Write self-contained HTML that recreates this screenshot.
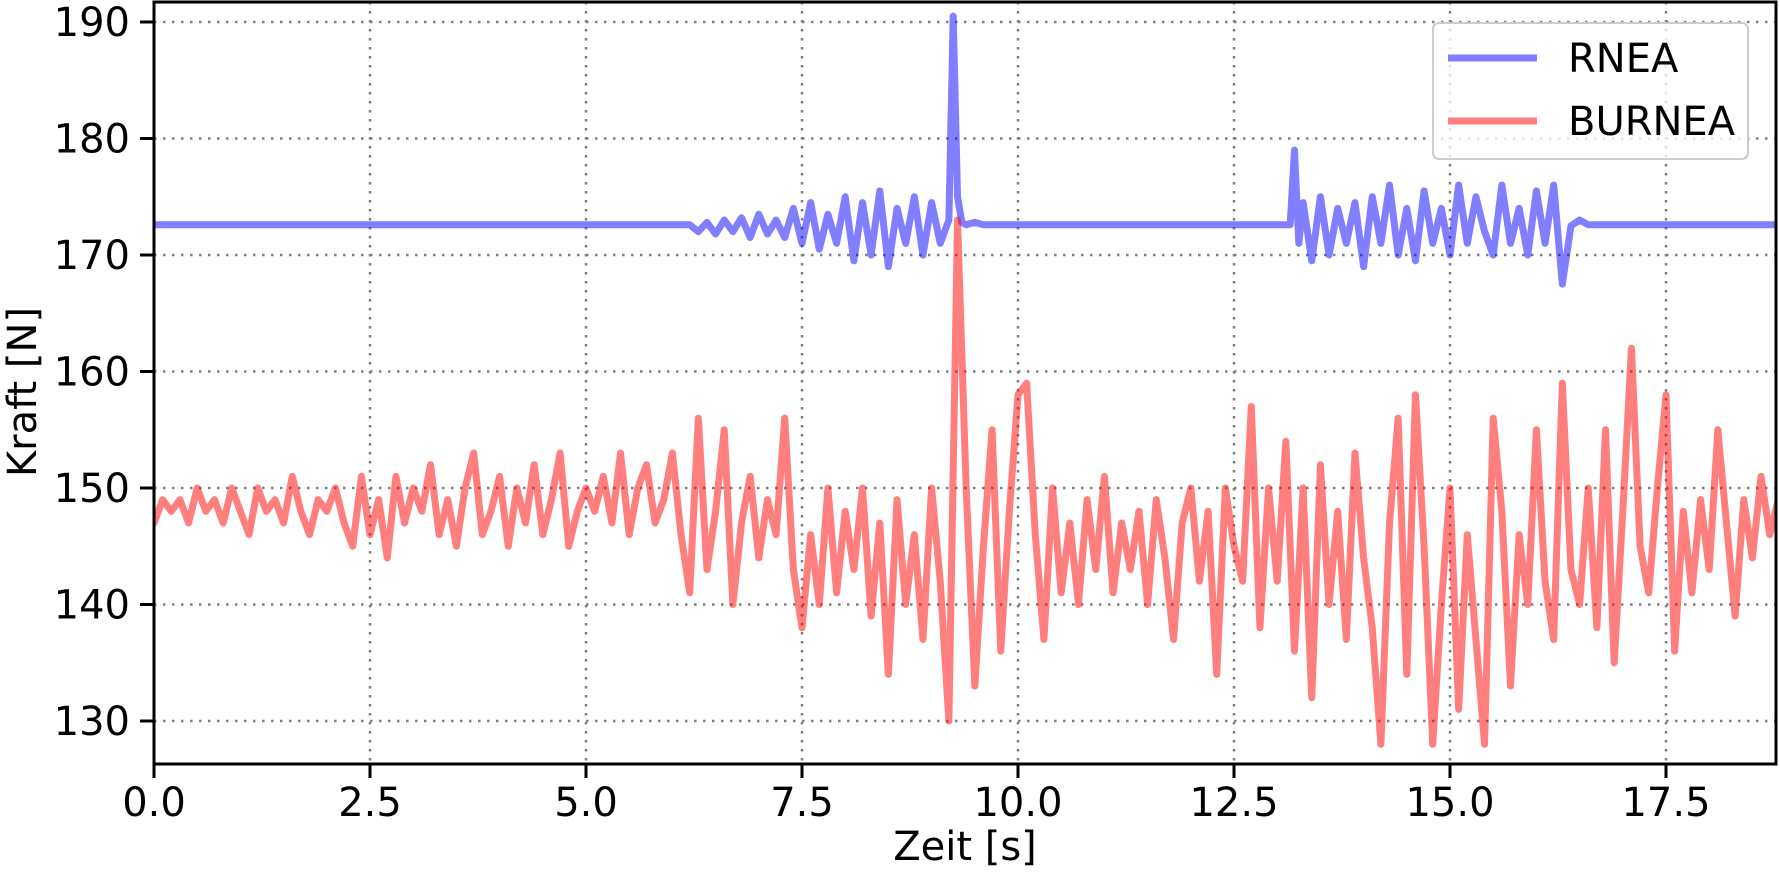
<!DOCTYPE html>
<html><head><meta charset="utf-8"><style>
html,body{margin:0;padding:0;background:#fff;}
svg{display:block;font-family:"DejaVu Sans","Liberation Sans",sans-serif;}
</style></head><body>
<svg id="chart" width="1780" height="880" viewBox="0 0 1780 880">
<g id="grid"></g>
<g id="series"></g>
<g id="axes"></g>
<g id="legend">
<rect x="1433" y="23" width="315" height="136" rx="6" fill="#fff" fill-opacity="0.8" stroke="#ccc" stroke-width="2"/>
<line x1="1448" y1="58" x2="1537" y2="58" stroke="#7f7fff" stroke-width="7"/>
<text x="1568" y="72" font-size="40">RNEA</text>
<line x1="1448" y1="121" x2="1537" y2="121" stroke="#ff7f7f" stroke-width="7"/>
<text x="1568" y="135" font-size="40">BURNEA</text>
</g>
<text x="965" y="860" font-size="40" text-anchor="middle">Zeit [s]</text>
<text transform="translate(36,392) rotate(-90)" font-size="40" text-anchor="middle">Kraft [N]</text>
</svg>
<script>
const xTicks=[0,2.5,5,7.5,10,12.5,15,17.5];
const xTickLabels=["0.0","2.5","5.0","7.5","10.0","12.5","15.0","17.5"];
const yTicks=[130,140,150,160,170,180,190];
const yTickLabels=["130","140","150","160","170","180","190"];
const rneaT=[0,6.2,6.3,6.4,6.5,6.6,6.7,6.8,6.9,7.0,7.1,7.2,7.3,7.4,7.5,7.6,7.7,7.8,7.9,8.0,8.1,8.2,8.3,8.4,8.5,8.6,8.7,8.8,8.9,9.0,9.1,9.2,9.25,9.3,9.35,9.4,9.5,9.6,13.15,13.2,13.25,13.3,13.4,13.5,13.6,13.7,13.8,13.9,14.0,14.1,14.2,14.3,14.4,14.5,14.6,14.7,14.8,14.9,15.0,15.1,15.2,15.3,15.4,15.5,15.6,15.7,15.8,15.9,16.0,16.1,16.2,16.3,16.4,16.5,16.6,16.7,18.8];
const rneaV=[172.6,172.6,172,172.8,171.8,173,172,173.2,171.5,173.5,171.8,173,171.5,174,171,174.5,170.5,173.5,171,175,169.5,174.5,170,175.5,169,174,171,175,170,174.5,171,173,190.5,175,172.8,172.6,172.8,172.6,172.6,179,171,174.5,169.5,175,170,174,171,174.5,169,175,171,176,170,174,169.5,175.5,171,174,170,176,171,175,172,170,176,171,174,170,175.5,171,176,167.5,172.5,173,172.6,172.6,172.6];
const burneaV=[147,149,148,149,147,150,148,149,147,150,148,146,150,148,149,147,151,148,146,149,148,150,147,
145,151,146,149,144,151,147,150,148,152,146,149,145,150,153,146,148,151,145,150,147,152,146,149,153,145,148,
150,148,151,147,153,146,150,152,147,149,
153,146,141,156,143,148,155,140,147,151,144,149,146,156,143,138,
146,140,150,141,148,143,150,139,147,134,149,140,146,137,150,
142,130,173,150,133,145,155,136,148,158,159,146,137,150,141,147,140,149,143,151,141,147,143,148,140,149,144,137,147,150,142,148,134,150,145,142,157,138,150,142,154,136,150,132,152,140,148,137,153,144,138,128,147,156,134,158,145,128,140,150,131,146,137,128,156,148,133,146,140,155,142,137,159,143,140,150,138,155,135,148,162,145,141,150,158,136,148,141,149,143,155,147,139,149,144,151,146,149];
const burneaDt=0.1;
const L=154,R=1776,T=2,B=764;
const xs=v=>L+v*86.4;
const ys=v=>22+(190-v)*11.65;
const NS="http://www.w3.org/2000/svg";
function mk(tag,attrs,parent){const e=document.createElementNS(NS,tag);for(const k in attrs)e.setAttribute(k,attrs[k]);parent.appendChild(e);return e;}
const grid=document.getElementById('grid'),axes=document.getElementById('axes'),series=document.getElementById('series');
xTicks.forEach((t,i)=>{
 const g=mk('line',{x1:xs(t),x2:xs(t),y1:T,y2:B,stroke:'#808080','stroke-width':2.5,'stroke-dasharray':'2.5,6.5'},grid);
 
 
 const tk=mk('line',{x1:xs(t),x2:xs(t),y1:B,y2:B+14,stroke:'#000','stroke-width':3},axes);
 
 
 const tx=mk('text',{x:xs(t),y:B+52,'font-size':40,'text-anchor':'middle'},axes);
 tx.textContent=xTickLabels[i];
 
 
});
yTicks.forEach((v,i)=>{
 const g=mk('line',{x1:L,x2:R,y1:ys(v),y2:ys(v),stroke:'#808080','stroke-width':2.5,'stroke-dasharray':'2.5,6.5'},grid);
 
 
 const tk=mk('line',{x1:L-14,x2:L,y1:ys(v),y2:ys(v),stroke:'#000','stroke-width':3},axes);
 
 
 const tx=mk('text',{x:L-24,y:ys(v)+14,'font-size':40,'text-anchor':'end'},axes);
 tx.textContent=yTickLabels[i];
 
 
});
const frame=mk('rect',{x:L,y:T,width:R-L,height:B-T,fill:'none',stroke:'#000','stroke-width':3},axes);


const clip=mk('clipPath',{id:'pc'},document.getElementById('chart'));
mk('rect',{x:L,y:T,width:R-L,height:B-T},clip);
const p1=mk('polyline',{points:rneaT.map((t,i)=>xs(t)+','+ys(rneaV[i])).join(' '),fill:'none',stroke:'#0000ff','stroke-opacity':0.5,'stroke-width':7,'stroke-linejoin':'round','stroke-linecap':'round','clip-path':'url(#pc)'},series);


const p2=mk('polyline',{points:burneaV.map((v,i)=>xs(i*burneaDt)+','+ys(v)).join(' '),fill:'none',stroke:'#ff0000','stroke-opacity':0.5,'stroke-width':7,'stroke-linejoin':'round','stroke-linecap':'round','clip-path':'url(#pc)'},series);


</script>
</body></html>
